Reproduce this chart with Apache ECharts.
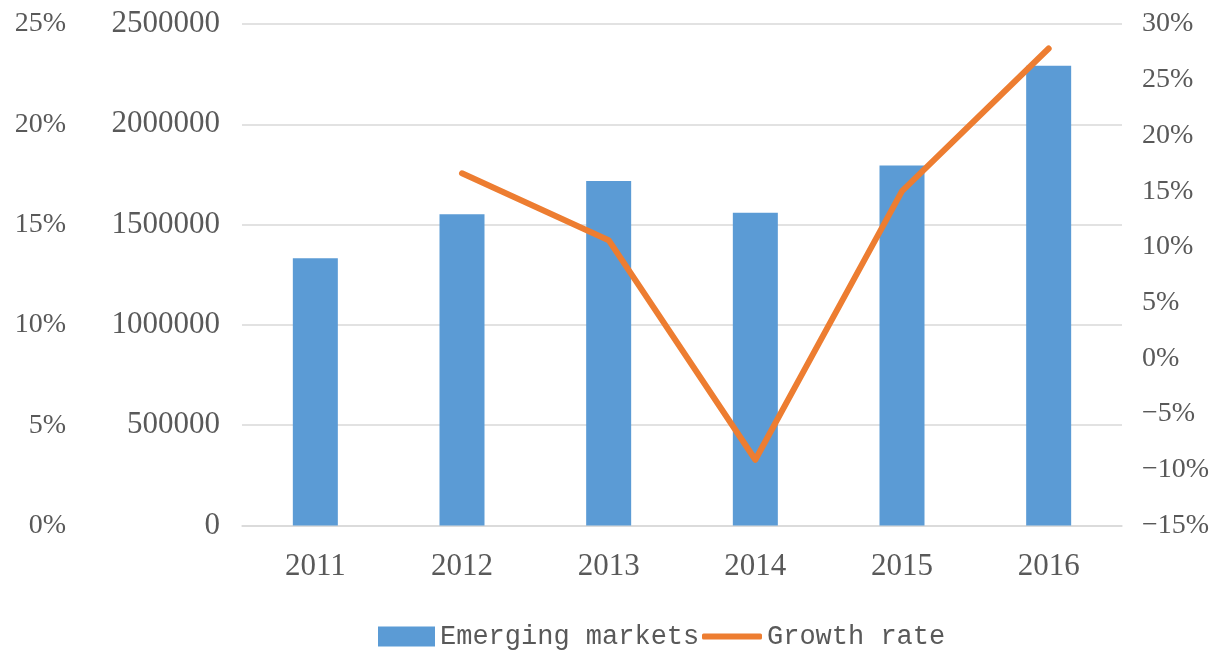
<!DOCTYPE html>
<html>
<head>
<meta charset="utf-8">
<script src="https://cdn.jsdelivr.net/npm/echarts@6/dist/echarts.min.js"></script>
<style>html,body{margin:0;padding:0;background:#fff;}#c{width:1213px;height:650px;}</style>
</head>
<body>
<div id="c"></div>
<script>
var categories = ['2011', '2012', '2013', '2014', '2015', '2016'];
var emergingMarkets = [1332000, 1551000, 1717000, 1559000, 1794000, 2292000];
var growthRate = [null, 16.6, 10.6, -9.1, 15.0, 27.8];
var leftPctTicks = [0, 25, 5];      // min, max, interval (%)
var valueTicks = [0, 2500000, 500000];
var rightPctTicks = [-15, 30, 5];

var serif = '"Liberation Serif", "DejaVu Serif", serif';
var mono = '"Liberation Mono", "DejaVu Sans Mono", monospace';
var textColor = '#595959';
function pct(v) { return String(v).replace('-', '\u2212') + '%'; }
function plain(v) { return String(v); }

var chart = echarts.init(document.getElementById('c'), null, {renderer: 'canvas'});
chart.setOption({
  animation: false,
  backgroundColor: '#ffffff',
  grid: {left: 242, right: 91, top: 24, bottom: 124.5, containLabel: false},
  legend: [
    {
      top: 618, left: 373,
      itemWidth: 57, itemHeight: 20, itemGap: 6,
      textStyle: {fontFamily: mono, fontSize: 27, color: textColor},
      data: [{name: 'Emerging markets', icon: 'rect'}]
    },
    {
      top: 618, left: 697,
      itemWidth: 60, itemHeight: 6, itemGap: 6,
      textStyle: {fontFamily: mono, fontSize: 27, color: textColor},
      data: [{name: 'Growth rate', icon: 'roundRect'}]
    }
  ],
  xAxis: {
    type: 'category',
    data: categories,
    axisLine: {lineStyle: {color: '#D9D9D9', width: 1.5}},
    axisTick: {show: false},
    axisLabel: {fontFamily: serif, fontSize: 31, color: textColor, margin: 26}
  },
  yAxis: [
    {
      type: 'value', position: 'left',
      min: valueTicks[0], max: valueTicks[1], interval: valueTicks[2],
      axisLine: {show: false}, axisTick: {show: false},
      splitLine: {lineStyle: {color: '#D9D9D9', width: 1.5}},
      axisLabel: {fontFamily: serif, fontSize: 31, color: textColor, margin: 22, formatter: plain}
    },
    {
      type: 'value', position: 'right',
      min: rightPctTicks[0], max: rightPctTicks[1], interval: rightPctTicks[2],
      axisLine: {show: false}, axisTick: {show: false}, splitLine: {show: false},
      axisLabel: {fontFamily: serif, fontSize: 28, color: textColor, margin: 20, formatter: pct}
    },
    {
      type: 'value', position: 'left', offset: 168,
      min: leftPctTicks[0], max: leftPctTicks[1], interval: leftPctTicks[2],
      axisLine: {show: false}, axisTick: {show: false}, splitLine: {show: false},
      axisLabel: {fontFamily: serif, fontSize: 28, color: textColor, margin: 8, formatter: pct}
    }
  ],
  series: [
    {
      name: 'Emerging markets', type: 'bar', yAxisIndex: 0,
      data: emergingMarkets, barWidth: 45,
      itemStyle: {color: '#5B9BD5'}
    },
    {
      name: 'Growth rate', type: 'line', yAxisIndex: 1,
      data: growthRate, showSymbol: false, symbol: 'none',
      lineStyle: {color: '#ED7D31', width: 6, cap: 'round', join: 'round'},
      itemStyle: {color: '#ED7D31'}
    }
  ]
});
</script>
</body>
</html>
